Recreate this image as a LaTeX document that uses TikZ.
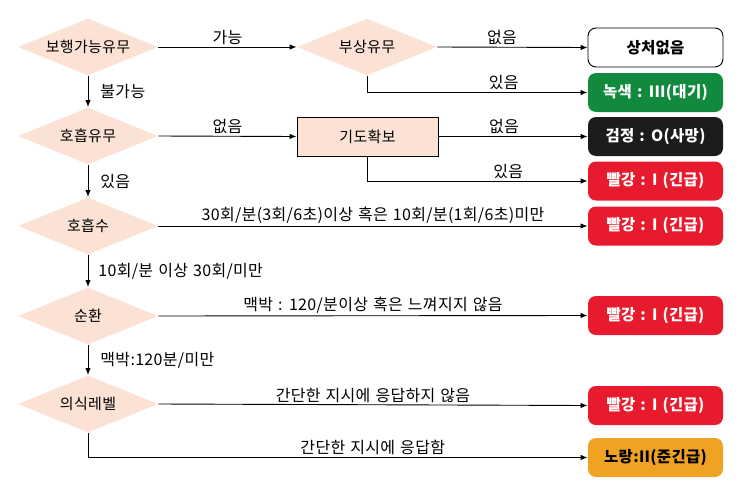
\documentclass[tikz,border=0pt]{standalone}
\usepackage{fontspec}
\setmainfont{Noto Sans CJK KR}[LetterSpace=2,WordSpace=1.3]
\usetikzlibrary{arrows.meta,shapes.geometric}
\definecolor{peach}{HTML}{FBE2D4}
\definecolor{tgreen}{HTML}{128A3E}
\definecolor{tblack}{HTML}{1C1C1C}
\definecolor{tred}{HTML}{E81A2E}
\definecolor{tyellow}{HTML}{F0A322}

\begin{document}
\begin{tikzpicture}[x=1pt,y=-1pt,>={Latex[length=7pt,width=5.5pt]},line width=0.9pt,
  dia/.style={diamond,fill=peach,minimum width=140pt,minimum height=57pt,aspect=2.46,inner sep=0pt,font=\fontsize{15}{17}\selectfont},
  act/.style={rectangle,draw,fill=peach,minimum width=141pt,minimum height=39pt,font=\fontsize{15}{17}\selectfont},
  tag/.style={rectangle,rounded corners=8pt,minimum width=135pt,minimum height=39pt,font=\bfseries\fontsize{15.5}{17}\selectfont},
  lbl/.style={font=\fontsize{16}{18}\selectfont,inner sep=2pt}]
\useasboundingbox (0,0) rectangle (740,493);
\node[dia] (walk) at (88,47) {보행가능유무};
\node[dia] (hurt) at (367,47) {부상유무};
\node[dia] (breath) at (88,136) {호흡유무};
\node[act] (airway) at (367.5,136.5) {기도확보};
\node[dia] (rate) at (88,226) {호흡수};
\node[dia] (circ) at (88,316) {순환};
\node[dia] (mind) at (88,404) {의식레벨};
\node[tag,draw,fill=white] (none) at (655.5,47.5) {상처없음};
\node[tag,fill=tgreen,text=white] (green) at (655.5,92.5) {녹색 : III(대기)};
\node[tag,fill=tblack,text=white] (black) at (655.5,136.5) {검정 : O(사망)};
\node[tag,fill=tred,text=white] (redA) at (655.5,181) {빨강 : I (긴급)};
\node[tag,fill=tred,text=white] (redB) at (655.5,226) {빨강 : I (긴급)};
\node[tag,fill=tred,text=white] (redC) at (655.5,315.5) {빨강 : I (긴급)};
\node[tag,fill=tred,text=white] (redD) at (655.5,405.5) {빨강 : I (긴급)};
\node[tag,fill=tyellow] (yellow) at (655.5,457.5) {노랑:II(준긴급)};
\draw[->] (walk.east) -- (hurt.west) node[lbl,midway,above]{가능};
\draw[->] (hurt.east) -- (none.west) node[lbl,pos=0.43,above]{없음};
\draw[->] (hurt.south) |- (green.west) node[lbl,pos=0.81,above]{있음};
\draw[->] (walk.south) -- (breath.north) node[lbl,midway,right,xshift=10pt]{불가능};
\draw[->] (breath.east) -- (airway.west) node[lbl,midway,above]{없음};
\draw[->] (airway.east) -- (black.west) node[lbl,pos=0.44,above]{없음};
\draw[->] (airway.south) |- (redA.west) node[lbl,pos=0.82,above]{있음};
\draw[->] (breath.south) -- (rate.north) node[lbl,midway,right,xshift=10pt]{있음};
\draw[->] (rate.east) -- (redB.west) node[lbl,midway,above]{30회/분(3회/6초)이상 혹은 10회/분(1회/6초)미만};
\draw[->] (rate.south) -- (circ.north) node[lbl,midway,right,xshift=8pt]{10회/분 이상 30회/미만};
\draw[->] (circ.east) -- (redC.west) node[lbl,midway,above]{맥박 : 120/분이상 혹은 느껴지지 않음};
\draw[->] (circ.south) -- (mind.north) node[lbl,midway,right,xshift=10pt]{맥박:120분/미만};
\draw[->] (mind.east) -- (redD.west) node[lbl,midway,above]{간단한 지시에 응답하지 않음};
\draw[->] (mind.south) |- (yellow.west) node[lbl,pos=0.785,above]{간단한 지시에 응답함};
\end{tikzpicture}
\end{document}
